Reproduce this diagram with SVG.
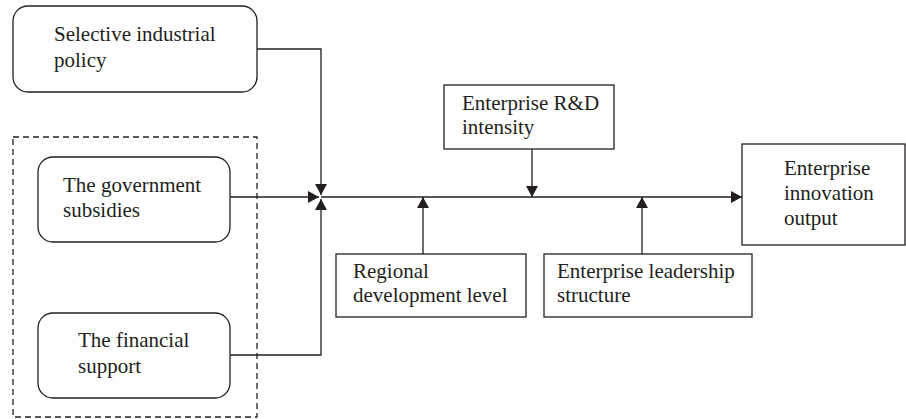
<svg xmlns="http://www.w3.org/2000/svg" width="906" height="419" viewBox="0 0 906 419">
<style>
.box{fill:#fff;stroke:#231f20;stroke-width:1.3}
.dash{fill:none;stroke:#231f20;stroke-width:1.3;stroke-dasharray:6,4}
.ln{fill:none;stroke:#231f20;stroke-width:1.3}
text{font-family:"Liberation Serif","Times New Roman",serif;font-size:21px;fill:#231f20}
</style>
<defs>
<marker id="ah" viewBox="0 0 11 12" refX="11" refY="6" markerWidth="11" markerHeight="12" markerUnits="userSpaceOnUse" orient="auto">
<path d="M0,0 L11,6 L0,12 Z" fill="#231f20"/>
</marker>
</defs>
<rect width="906" height="419" fill="#fff"/>
<g id="group-dashed"><rect class="dash" x="13" y="137" width="244" height="280"/></g>
<g id="connectors">
<path class="ln" d="M257,49 H321 V195" marker-end="url(#ah)"/>
<path class="ln" d="M230,197 H319" marker-end="url(#ah)"/>
<path class="ln" d="M230,355 H321 V199" marker-end="url(#ah)"/>
<path class="ln" d="M321,197 H742" marker-end="url(#ah)"/>
<path class="ln" d="M532,149 V197" marker-end="url(#ah)"/>
<path class="ln" d="M423,254 V197" marker-end="url(#ah)"/>
<path class="ln" d="M642,254 V197" marker-end="url(#ah)"/>
</g>
<g id="selective">
<rect class="box" x="13" y="6" width="244" height="86" rx="15"/>
<text x="54" y="41">Selective industrial</text>
<text x="54" y="67">policy</text>
</g>
<g id="subsidies">
<rect class="box" x="38" y="157" width="192" height="85" rx="15"/>
<text x="63" y="192">The government</text>
<text x="63" y="217">subsidies</text>
</g>
<g id="financial">
<rect class="box" x="38" y="313" width="192" height="85" rx="15"/>
<text x="78" y="347">The financial</text>
<text x="78" y="373">support</text>
</g>
<g id="rd">
<rect class="box" x="444" y="85" width="170" height="64"/>
<text x="462" y="110">Enterprise R&amp;D</text>
<text x="462" y="134">intensity</text>
</g>
<g id="regional">
<rect class="box" x="336" y="254" width="190" height="63"/>
<text x="353" y="278">Regional</text>
<text x="353" y="302">development level</text>
</g>
<g id="leadership">
<rect class="box" x="544" y="254" width="208" height="63"/>
<text x="557" y="278">Enterprise leadership</text>
<text x="557" y="302">structure</text>
</g>
<g id="output">
<rect class="box" x="742" y="144" width="163" height="101"/>
<text x="784" y="175">Enterprise</text>
<text x="784" y="200">innovation</text>
<text x="784" y="225">output</text>
</g>
</svg>
